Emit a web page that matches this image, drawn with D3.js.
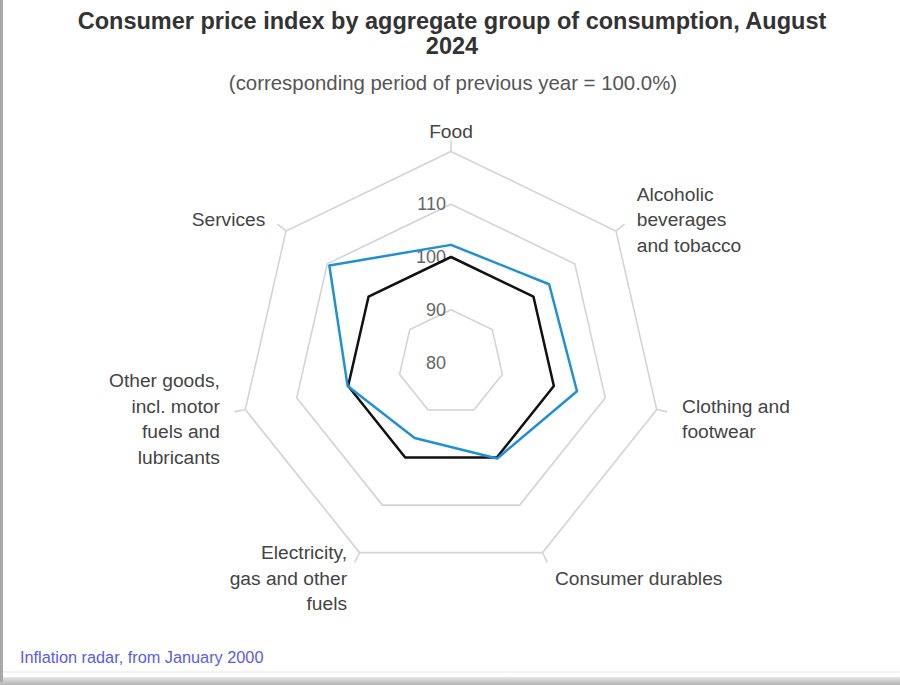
<!DOCTYPE html>
<html>
<head>
<meta charset="utf-8">
<script src="https://cdn.jsdelivr.net/npm/d3@7"></script>
<style>
  html, body { margin: 0; padding: 0; background: #fff; }
  svg { display: block; font-family: "Liberation Sans", Arial, sans-serif; }
</style>
</head>
<body>
<svg id="chart" width="900" height="685"></svg>
<script>
// ---- data ----
const categories = ["Food", "Alcoholic beverages and tobacco", "Clothing and footwear",
  "Consumer durables", "Electricity, gas and other fuels",
  "Other goods, incl. motor fuels and lubricants", "Services"];
const categoryLines = [
  ["Food"],
  ["Alcoholic", "beverages", "and tobacco"],
  ["Clothing and", "footwear"],
  ["Consumer durables"],
  ["Electricity,", "gas and other", "fuels"],
  ["Other goods,", "incl. motor", "fuels and", "lubricants"],
  ["Services"]
];
const cpiValues = [102.3, 103.8, 104.5, 100.2, 95.9, 100.1, 109.5];
const baseValues = [100, 100, 100, 100, 100, 100, 100];
const gridLevels = [90, 100, 110, 120];
const tickLabels = [80, 90, 100, 110];
const titleLines = ["Consumer price index by aggregate group of consumption, August", "2024"];
const subtitle = "(corresponding period of previous year = 100.0%)";
const footer = "Inflation radar, from January 2000";

// ---- layout ----
const W = 900, H = 685;
const cx = 451, cy = 362.5, R = 211;
const svg = d3.select("#chart");

const n = categories.length;
const angle = d3.scaleLinear().domain([0, n]).range([0, 2 * Math.PI]);
const rScale = d3.scaleLinear().domain([80, 120]).range([0, R]);
const pt = (i, v) => {
  const a = angle(i), r = rScale(v);
  return [cx + r * Math.sin(a), cy - r * Math.cos(a)];
};

// frame: left border and bottom shadow
const defs = svg.append("defs");
const grad = defs.append("linearGradient").attr("id", "shadow").attr("x1", 0).attr("x2", 0).attr("y1", 0).attr("y2", 1);
grad.append("stop").attr("offset", "0%").attr("stop-color", "#e6e6e6");
grad.append("stop").attr("offset", "100%").attr("stop-color", "#b4b4b4");
svg.append("rect").attr("x", 0).attr("y", 671).attr("width", W).attr("height", 2).attr("fill", "#f3f3f3");
svg.append("rect").attr("x", 0).attr("y", 677).attr("width", W).attr("height", 8).attr("fill", "url(#shadow)");
svg.append("rect").attr("x", 0).attr("y", 0).attr("width", 3).attr("height", 682).attr("fill", "#a8a8a8");

// titles
svg.append("g").selectAll("text").data(titleLines).join("text")
  .attr("x", 452).attr("y", (d, i) => 29 + i * 25)
  .attr("text-anchor", "middle").attr("font-size", 23.5).attr("font-weight", "bold")
  .attr("fill", "#333").text(d => d);
svg.append("text").attr("x", 453).attr("y", 90).attr("text-anchor", "middle")
  .attr("font-size", 20.4).attr("fill", "#555").text(subtitle);

// grid polygons
const line = d3.line().curve(d3.curveLinearClosed);
svg.append("g").selectAll("path").data(gridLevels).join("path")
  .attr("d", lv => line(d3.range(n).map(i => pt(i, lv))))
  .attr("fill", "none").attr("stroke", "#d4d4d4").attr("stroke-width", 1.6);

// outer tick marks
svg.append("g").selectAll("line").data(d3.range(n)).join("line")
  .attr("x1", i => pt(i, 120)[0]).attr("y1", i => pt(i, 120)[1])
  .attr("x2", i => cx + (R + 11) * Math.sin(angle(i)))
  .attr("y2", i => cy - (R + 11) * Math.cos(angle(i)))
  .attr("stroke", "#d4d4d4").attr("stroke-width", 1.6);

// y labels
svg.append("g").selectAll("text").data(tickLabels).join("text")
  .attr("x", cx - 5).attr("y", v => cy - rScale(v) + 6)
  .attr("text-anchor", "end").attr("font-size", 18).attr("fill", "#666")
  .text(d => d);

// series
svg.append("path").attr("d", line(baseValues.map((v, i) => pt(i, v))))
  .attr("fill", "none").attr("stroke", "#111").attr("stroke-width", 2.5).attr("stroke-linejoin", "round");
svg.append("path").attr("d", line(cpiValues.map((v, i) => pt(i, v))))
  .attr("fill", "none").attr("stroke", "#2090d4").attr("stroke-width", 2.5).attr("stroke-linejoin", "round");

// category labels
const L = 235, lh = 25.5;
svg.append("g").selectAll("text").data(categoryLines).join("text")
  .attr("font-size", 19.2).attr("fill", "#444")
  .each(function (lines, i) {
    const a = angle(i), s = Math.sin(a);
    const ax = cx + L * s, ay = cy - L * Math.cos(a);
    let anchor = "middle", x = ax;
    if (s > 0.1) { anchor = "start"; x = ax + 2; }
    else if (s < -0.1) { anchor = "end"; x = ax - 2; }
    const first = ay + 4 - (lines.length - 1) * lh / 2 + 6.5;
    d3.select(this).attr("text-anchor", anchor).selectAll("tspan").data(lines).join("tspan")
      .attr("x", x).attr("y", (d, k) => first + k * lh).text(d => d);
  });

// footer
svg.append("text").attr("x", 20).attr("y", 663).attr("font-size", 16.3).attr("fill", "#5a5af0").text(footer);
</script>
</body>
</html>
